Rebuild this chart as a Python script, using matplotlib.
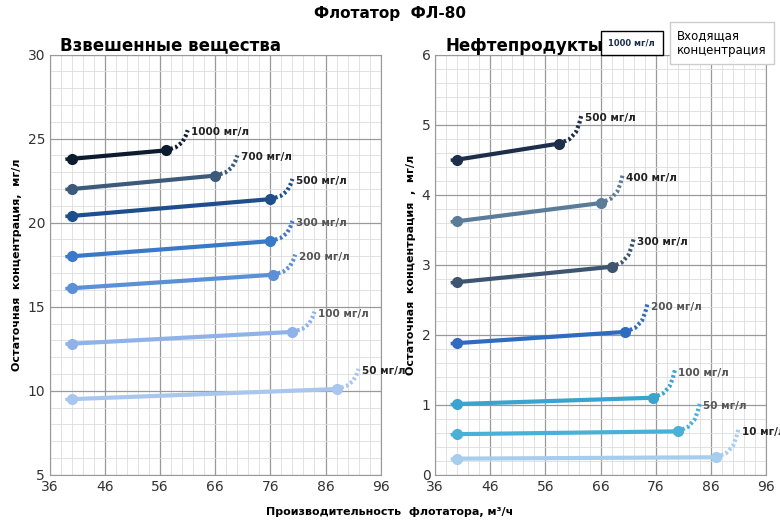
import matplotlib.pyplot as plt
from matplotlib.ticker import FixedLocator, MultipleLocator

# left panel: suspended solids
left_labels = ["1000 мг/л", "700 мг/л", "500 мг/л", "300 мг/л", "200 мг/л", "100 мг/л", "50 мг/л"]
left_x0 = [40, 40, 40, 40, 40, 40, 40]
left_y0 = [23.8, 22.0, 20.4, 18.0, 16.1, 12.8, 9.5]
left_x1 = [57, 66, 76, 76, 76.5, 80, 88]
left_y1 = [24.3, 22.8, 21.4, 18.9, 16.9, 13.5, 10.1]
left_colors = ["#0d1b2e", "#3d5a7a", "#1f4e8c", "#3a78c8", "#5b8fd6", "#8fb3e8", "#a9c6ef"]

# right panel: oil products
right_labels = ["500 мг/л", "400 мг/л", "300 мг/л", "200 мг/л", "100 мг/л", "50 мг/л", "10 мг/л"]
right_x0 = [40, 40, 40, 40, 40, 40, 40]
right_y0 = [4.5, 3.62, 2.75, 1.88, 1.01, 0.58, 0.23]
right_x1 = [58.5, 66, 68, 70.5, 75.5, 80, 87]
right_y1 = [4.73, 3.88, 2.97, 2.04, 1.1, 0.62, 0.25]
right_colors = ["#1c2e4a", "#5a7c99", "#3d5570", "#2f6cc0", "#3aa3d0", "#4ab0d8", "#a6cdee"]

# dotted tail shape (dx, relative dy)
tail_dx = [0, 1.8, 3.0, 3.6, 4.0]
tail_dy = [0, 0.15, 0.4, 0.7, 1.0]
label_dark = [True, True, True, False, False, False, True]

fig = plt.figure(figsize=(7.8, 5.2), dpi=100)
ax1 = fig.add_axes([0.064, 0.087, 0.424, 0.808])
ax2 = fig.add_axes([0.558, 0.087, 0.424, 0.808])


def draw(ax, labels, x0, y0, x1, y1, colors, tail_h, lead):
    for i, (lab, a, b, c, d, col) in enumerate(zip(labels, x0, y0, x1, y1, colors)):
        ax.plot([a - lead, a], [b - 0.02 * tail_h, b], ls=(0, (1, 1)), color=col, lw=2.5)
        ax.plot([a, c], [b, d], color=col, lw=3, solid_capstyle="round")
        ax.plot([a, c], [b, d], "o", color=col, ms=7)
        tx = [c + t for t in tail_dx]
        ty = [d + t * tail_h for t in tail_dy]
        ax.plot(tx, ty, ls=(0, (0.6, 0.6)), color=col, lw=3)
        ax.text(tx[-1] + 0.6, ty[-1] - 0.1 * tail_h, lab, fontsize=7.5, fontweight="bold",
                color="#222222" if label_dark[i] else "#555555", va="center")


draw(ax1, left_labels, left_x0, left_y0, left_x1, left_y1, left_colors, 1.2, 1.2)
draw(ax2, right_labels, right_x0, right_y0, right_x1, right_y1, right_colors, 0.4, 1.2)

for ax, ylim, maj, mnr in [(ax1, (5, 30), 5, 1), (ax2, (0, 6), 1, 0.2)]:
    ax.set_xlim(36, 96)
    ax.set_ylim(*ylim)
    ax.xaxis.set_major_locator(FixedLocator(list(range(36, 97, 10))))
    ax.xaxis.set_minor_locator(FixedLocator(list(range(36, 97, 2))))
    ax.yaxis.set_major_locator(MultipleLocator(maj))
    ax.yaxis.set_minor_locator(MultipleLocator(mnr))
    ax.grid(which="major", color="#999999", lw=0.9)
    ax.grid(which="minor", color="#dddddd", lw=0.6)
    ax.set_axisbelow(True)
    ax.tick_params(which="both", length=0, labelsize=10, colors="#333333")
    for s in ax.spines.values():
        s.set_color("#999999")

ax1.set_title("Взвешенные вещества", loc="left", fontsize=12, fontweight="bold", pad=2, x=0.03)
ax2.set_title("Нефтепродукты", loc="left", fontsize=12, fontweight="bold", pad=2, x=0.03)
ax1.set_ylabel("Остаточная  концентрация,  мг/л", fontsize=8, fontweight="bold")
ax2.set_ylabel("Остаточная  концентрация  ,  мг/л", fontsize=8, fontweight="bold")
fig.text(0.5, 0.01, "Производительность  флотатора, м³/ч", ha="center", fontsize=8, fontweight="bold")
fig.text(0.5, 0.965, "Флотатор  ФЛ-80", ha="center", fontsize=11, fontweight="bold")

# legend box
fig.text(0.868, 0.918, "Входящая\nконцентрация", fontsize=8.5, va="center", linespacing=1.2,
         bbox=dict(boxstyle="square,pad=0.6", fc="white", ec="#cccccc"))
fig.text(0.78, 0.918, "1000 мг/л", fontsize=6, fontweight="bold", color="#1c2e4a", va="center",
         bbox=dict(boxstyle="square,pad=0.9", fc="white", ec="black"))

fig.savefig("out.png", dpi=100)
